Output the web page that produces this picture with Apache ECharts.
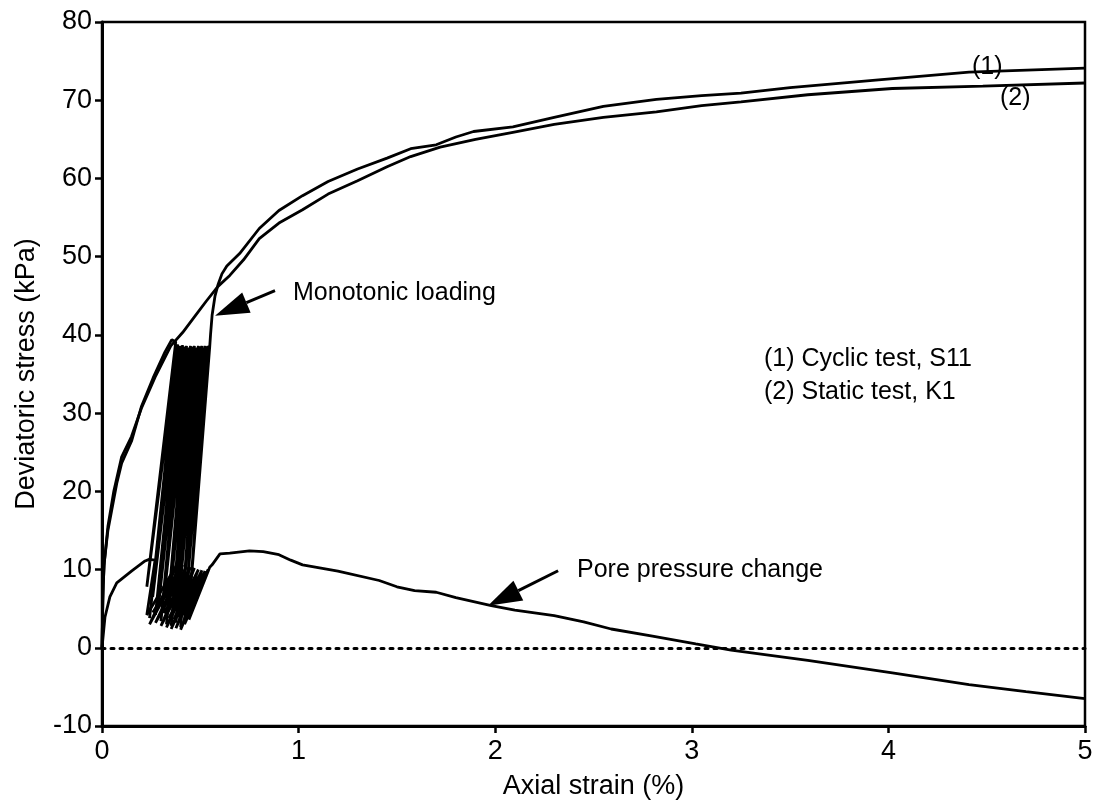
<!DOCTYPE html>
<html>
<head>
<meta charset="utf-8">
<script src="https://cdn.jsdelivr.net/npm/echarts@6/dist/echarts.min.js"></script>
<style>
  html, body { margin: 0; padding: 0; background: #fff; }
  #chart { width: 1101px; height: 809px; }
</style>
</head>
<body>
<div id="chart"></div>
<script>
// Axis ticks
const xTicks = [0, 1, 2, 3, 4, 5];
const yTicks = [-10, 0, 10, 20, 30, 40, 50, 60, 70, 80];

// (2) Static test K1: monotonic loading, [axial strain %, deviatoric stress kPa]
const staticTest = [
  [0, 0], [0.004, 6], [0.01, 10.5], [0.03, 15.5], [0.06, 20], [0.1, 24.4],
  [0.15, 27], [0.2, 30.6], [0.27, 34.6], [0.35, 38.6], [0.41, 40.3],
  [0.47, 42.3], [0.53, 44.3], [0.59, 46.2], [0.65, 47.6], [0.72, 49.6],
  [0.8, 52.3], [0.9, 54.3], [1.02, 56.0], [1.15, 58.0], [1.3, 59.7],
  [1.45, 61.5], [1.57, 62.8], [1.72, 64.0], [1.9, 65.0], [2.09, 65.9],
  [2.3, 66.9], [2.55, 67.8], [2.82, 68.5], [3.05, 69.3], [3.25, 69.8],
  [3.59, 70.7], [4.02, 71.5], [4.48, 71.8], [5.0, 72.2]
];

// (1) Cyclic test S11: first loading up to the cyclic stress level
const cyclicFirstLoading = [
  [0, 0], [0.006, 8], [0.012, 11], [0.03, 15], [0.075, 21], [0.1, 23.6],
  [0.15, 26.4], [0.2, 30.8], [0.26, 34.5], [0.32, 37.8], [0.355, 39.4], [0.375, 39.1]
];
// Unloading troughs and reloading peaks of the load cycles
const cycleTroughs = [
  [0.228, 7.8], [0.242, 3.8], [0.258, 6.5], [0.272, 4.2], [0.288, 5.5], [0.300, 3.4],
  [0.315, 6.2], [0.328, 3.0], [0.340, 5.0], [0.352, 2.8], [0.364, 4.5], [0.376, 3.2],
  [0.388, 5.2], [0.400, 2.6], [0.410, 6.0], [0.420, 3.6], [0.430, 7.2], [0.442, 4.8]
];
const cyclePeaks = [
  [0.385, 38.8], [0.398, 38.6], [0.410, 38.7], [0.420, 38.5], [0.430, 38.6], [0.440, 38.4],
  [0.450, 38.6], [0.460, 38.5], [0.470, 38.6], [0.480, 38.4], [0.490, 38.6], [0.500, 38.5],
  [0.508, 38.6], [0.516, 38.4], [0.524, 38.6], [0.532, 38.5], [0.540, 38.6], [0.548, 38.5]
];
// Monotonic loading after the cycles
const cyclicAfterLoading = [
  [0.552, 40], [0.56, 42.5], [0.575, 45], [0.59, 46.4], [0.61, 47.8], [0.635, 48.8],
  [0.7, 50.4], [0.8, 53.6], [0.9, 55.9], [1.02, 57.8], [1.15, 59.6], [1.3, 61.2],
  [1.45, 62.6], [1.57, 63.8], [1.7, 64.3], [1.8, 65.3], [1.89, 66.0], [2.09, 66.6],
  [2.3, 67.8], [2.55, 69.2], [2.82, 70.1], [3.05, 70.6], [3.25, 70.9], [3.5, 71.6],
  [3.95, 72.6], [4.41, 73.6], [5.0, 74.1]
];

// Pore pressure change (kPa) in the cyclic test
const poreFirstLoading = [
  [0, 0], [0.015, 3.9], [0.04, 6.5], [0.075, 8.3], [0.15, 9.8], [0.219, 11.1],
  [0.24, 11.3], [0.27, 11.2]
];
const poreAtTroughs = [
  [0.228, 4.2], [0.242, 3.0], [0.258, 4.5], [0.272, 3.2], [0.288, 4.0], [0.300, 2.8],
  [0.315, 4.4], [0.328, 2.6], [0.340, 3.8], [0.352, 2.4], [0.364, 3.6], [0.376, 2.5],
  [0.388, 3.9], [0.400, 2.3], [0.410, 4.2], [0.420, 3.0], [0.430, 4.8], [0.442, 3.6]
];
const poreAtPeaks = [
  [0.385, 10.8], [0.398, 10.2], [0.410, 10.6], [0.420, 9.8], [0.430, 10.4], [0.440, 9.6],
  [0.450, 10.3], [0.460, 9.5], [0.470, 10.2], [0.480, 9.4], [0.490, 10.0], [0.500, 9.3],
  [0.508, 9.9], [0.516, 9.2], [0.524, 9.8], [0.532, 9.4], [0.540, 10.0], [0.548, 10.3]
];
const poreAfterLoading = [
  [0.56, 10.6], [0.6, 12.0], [0.65, 12.1], [0.75, 12.4], [0.82, 12.3], [0.9, 11.9],
  [0.96, 11.2], [1.02, 10.6], [1.2, 9.8], [1.41, 8.6], [1.5, 7.8], [1.59, 7.3],
  [1.7, 7.1], [1.8, 6.4], [1.98, 5.4], [2.1, 4.8], [2.3, 4.1], [2.45, 3.3],
  [2.59, 2.4], [2.8, 1.5], [3.02, 0.5], [3.2, -0.3], [3.59, -1.6], [4.02, -3.2],
  [4.41, -4.7], [4.7, -5.6], [5.0, -6.5]
];

// Annotation arrows: [tail, tip] in data coordinates
const monotonicArrow = [[0.88, 45.65], [0.575, 42.45]];
const poreArrow = [[2.32, 9.85], [1.963, 5.37]];

// Chain first loading, the load cycles and the final loading into one path
function cyclePath(first, troughs, peaks, after) {
  const path = first.slice();
  for (let i = 0; i < troughs.length; i++) {
    path.push(troughs[i], peaks[i]);
  }
  return path.concat(after);
}
const cyclicPath = cyclePath(cyclicFirstLoading, cycleTroughs, cyclePeaks, cyclicAfterLoading);
const porePath = cyclePath(poreFirstLoading, poreAtTroughs, poreAtPeaks, poreAfterLoading);

const FONT = '"Liberation Sans", Arial, Helvetica, sans-serif';
const chart = echarts.init(document.getElementById('chart'), null, { renderer: 'canvas' });

const curveStyle = { color: '#000', width: 2.8 };
function curve(name, data, extra) {
  return Object.assign({
    name: name, type: 'line', data: data, showSymbol: false, symbol: 'none',
    lineStyle: curveStyle, itemStyle: { color: '#000' }, silent: true,
    animation: false, clip: false
  }, extra || {});
}

chart.setOption({
  backgroundColor: '#fff',
  animation: false,
  grid: {
    left: 102, right: 16, top: 22, bottom: 83,
    show: true, borderColor: '#000', borderWidth: 2.5, backgroundColor: 'transparent'
  },
  xAxis: {
    type: 'value', min: xTicks[0], max: xTicks[xTicks.length - 1], interval: 1,
    name: 'Axial strain (%)', nameLocation: 'middle', nameGap: 47,
    nameTextStyle: { fontFamily: FONT, fontSize: 27, color: '#000' },
    axisLine: { onZero: false, lineStyle: { color: '#000', width: 3 } },
    axisTick: { show: true, length: 7, lineStyle: { color: '#000', width: 2.5 } },
    axisLabel: { fontFamily: FONT, fontSize: 27, color: '#000', margin: 12 },
    splitLine: { show: false }
  },
  yAxis: {
    type: 'value', min: yTicks[0], max: yTicks[yTicks.length - 1], interval: 10,
    name: 'Deviatoric stress (kPa)', nameLocation: 'middle', nameGap: 62,
    nameTextStyle: { fontFamily: FONT, fontSize: 27, color: '#000' },
    axisLine: { onZero: false, lineStyle: { color: '#000', width: 3 } },
    axisTick: { show: true, length: 7, lineStyle: { color: '#000', width: 2.5 } },
    axisLabel: { fontFamily: FONT, fontSize: 27, color: '#000', margin: 10 },
    splitLine: { show: false }
  },
  series: [
    curve('Static test, K1', staticTest),
    curve('Cyclic test, S11', cyclicPath),
    curve('Pore pressure change', porePath, {
      markLine: {
        silent: true, symbol: ['none', 'none'], label: { show: false },
        lineStyle: { color: '#000', width: 3, type: [3, 6], cap: 'round' },
        data: [{ yAxis: 0 }]
      }
    })
  ]
});

// Annotations: arrows anchored to data coordinates, plus text labels
function arrowGraphic(pair) {
  const tail = chart.convertToPixel({ gridIndex: 0 }, pair[0]);
  const tip = chart.convertToPixel({ gridIndex: 0 }, pair[1]);
  const dx = tip[0] - tail[0], dy = tip[1] - tail[1];
  const len = Math.hypot(dx, dy);
  const ux = dx / len, uy = dy / len;
  const headLen = 34, halfW = 11;
  const bx = tip[0] - ux * headLen, by = tip[1] - uy * headLen;
  return [
    { type: 'line', shape: { x1: tail[0], y1: tail[1], x2: bx, y2: by },
      style: { stroke: '#000', lineWidth: 3 }, silent: true },
    { type: 'polygon',
      shape: { points: [tip, [bx - uy * halfW, by + ux * halfW], [bx + uy * halfW, by - ux * halfW]] },
      style: { fill: '#000' }, silent: true }
  ];
}
function label(text, x, y) {
  return { type: 'text', x: x, y: y, silent: true,
    style: { text: text, fill: '#000', font: '25px ' + FONT, textAlign: 'left', textVerticalAlign: 'middle' } };
}

chart.setOption({
  graphic: [].concat(
    arrowGraphic(monotonicArrow),
    arrowGraphic(poreArrow),
    [
      label('Monotonic loading', 293, 293),
      label('(1) Cyclic test, S11', 764, 359),
      label('(2) Static test, K1', 764, 392),
      label('Pore pressure change', 577, 570),
      label('(1)', 972, 67),
      label('(2)', 1000, 98)
    ]
  )
});
</script>
</body>
</html>
